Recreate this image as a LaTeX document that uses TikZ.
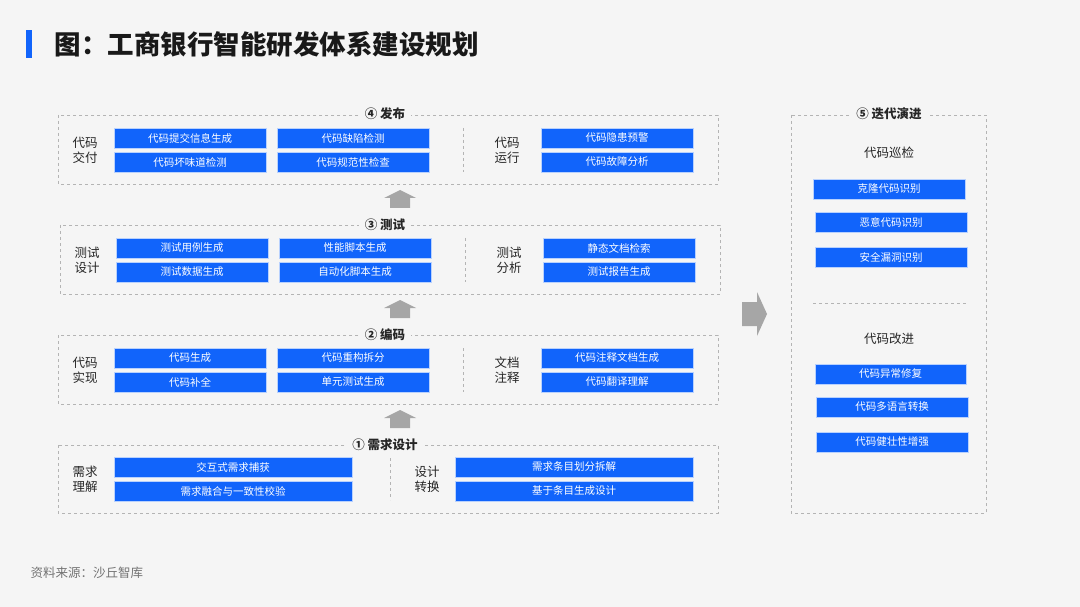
\documentclass[tikz,border=0pt]{standalone}
\usepackage{fontspec}
\setmainfont{Noto Sans CJK SC}
\definecolor{bg}{HTML}{F5F5F5}
\definecolor{bl}{HTML}{1164FB}
\definecolor{dash}{HTML}{B4B4B4}
\definecolor{arr}{HTML}{A6A6A6}
\begin{document}
\begin{tikzpicture}[x=1pt,y=-1pt,
  sec/.style={draw=dash,dashed,line width=0.8pt},
  bx/.style={fill=bl,draw=white!70!bl,line width=0.5pt,text=white,font=\fontsize{10.5}{12}\selectfont,inner sep=0pt},
  lab/.style={font=\fontsize{12.5}{15}\selectfont,align=center,text=black!85},
  ttl/.style={fill=bg,font=\bfseries\fontsize{12.5}{15}\selectfont,inner xsep=6pt,inner ysep=1pt,text=black!85},
  up/.style={fill=arr,draw=none}]
\fill[bg] (0,0) rectangle (1080,607);
\useasboundingbox (0,0) rectangle (1080,607);
\fill[bl] (26,30) rectangle (32,58);
\node[anchor=west,font=\bfseries\fontsize{26.5}{30}\selectfont,text=black!90] (title) at (51,44) {图：工商银行智能研发体系建设规划};
\node[anchor=west,font=\fontsize{12.5}{14}\selectfont,text=black!55] (src) at (27,573) {资料来源：沙丘智库};
\newcommand\mybox[5]{\node[bx,minimum width=#3-#2,minimum height=20] (#1) at ({(#2+#3)/2},#4) {#5};}
\newcommand\uparr[1]{\fill[arr] (384,#1+8) -- (400,#1) -- (416,#1+8) -- (410,#1+8) -- (410,#1+18) -- (390,#1+18) -- (390,#1+8) -- cycle;}
% section 4
\draw[sec] (58,115) rectangle (718,184);
\node[ttl] (s4) at (385,114) {④ 发布};
\node[lab] (l4a) at (85,150) {代码\\交付};
\mybox{b41}{114}{266}{138}{代码提交信息生成}
\mybox{b42}{114}{266}{162}{代码坏味道检测}
\mybox{b43}{277}{429}{138}{代码缺陷检测}
\mybox{b44}{277}{429}{162}{代码规范性检查}
\draw[sec] (463,128) -- (463,172);
\node[lab] (l4b) at (507,150) {代码\\运行};
\mybox{b45}{541}{693}{138}{代码隐患预警}
\mybox{b46}{541}{693}{162}{代码故障分析}
\uparr{190}
% section 3
\draw[sec] (60,225) rectangle (720,294);
\node[ttl] (s3) at (385,225) {③ 测试};
\node[lab] (l3a) at (87,260) {测试\\设计};
\mybox{b31}{116}{268}{248}{测试用例生成}
\mybox{b32}{116}{268}{272}{测试数据生成}
\mybox{b33}{279}{431}{248}{性能脚本生成}
\mybox{b34}{279}{431}{272}{自动化脚本生成}
\draw[sec] (465,238) -- (465,282);
\node[lab] (l3b) at (509,260) {测试\\分析};
\mybox{b35}{543}{695}{248}{静态文档检索}
\mybox{b36}{543}{695}{272}{测试报告生成}
\uparr{300}
% section 2
\draw[sec] (58,335) rectangle (718,404);
\node[ttl] (s2) at (385,335) {② 编码};
\node[lab] (l2a) at (85,370) {代码\\实现};
\mybox{b21}{114}{266}{358}{代码生成}
\mybox{b22}{114}{266}{382}{代码补全}
\mybox{b23}{277}{429}{358}{代码重构拆分}
\mybox{b24}{277}{429}{382}{单元测试生成}
\draw[sec] (463,348) -- (463,392);
\node[lab] (l2b) at (507,370) {文档\\注释};
\mybox{b25}{541}{693}{358}{代码注释文档生成}
\mybox{b26}{541}{693}{382}{代码翻译理解}
\uparr{410}
% section 1
\draw[sec] (58,445) rectangle (718,513);
\node[ttl] (s1) at (385,445) {① 需求设计};
\node[lab] (l1a) at (85,479) {需求\\理解};
\mybox{b11}{114}{352}{467}{交互式需求捕获}
\mybox{b12}{114}{352}{491}{需求融合与一致性校验}
\draw[sec] (390,458) -- (390,500);
\node[lab] (l1b) at (427,479) {设计\\转换};
\mybox{b13}{455}{693}{467}{需求条目划分拆解}
\mybox{b14}{455}{693}{491}{基于条目生成设计}
% big arrow
\fill[arr] (742,302) -- (757,302) -- (757,292) -- (767,314) -- (757,336) -- (757,326) -- (742,326) -- cycle;
% section 5
\draw[sec] (791,115) rectangle (986,513);
\node[ttl] (s5) at (889,114) {⑤ 迭代演进};
\node[lab] (l5a) at (889,153) {代码巡检};
\mybox{b51}{813}{965}{189}{克隆代码识别}
\mybox{b52}{815}{967}{222}{恶意代码识别}
\mybox{b53}{815}{967}{257}{安全漏洞识别}
\draw[sec] (813,303) -- (968,303);
\node[lab] (l5b) at (889,339) {代码改进};
\mybox{b54}{815}{966}{374}{代码异常修复}
\mybox{b55}{816}{968}{407}{代码多语言转换}
\mybox{b56}{816}{968}{442}{代码健壮性增强}
\end{tikzpicture}
\end{document}
